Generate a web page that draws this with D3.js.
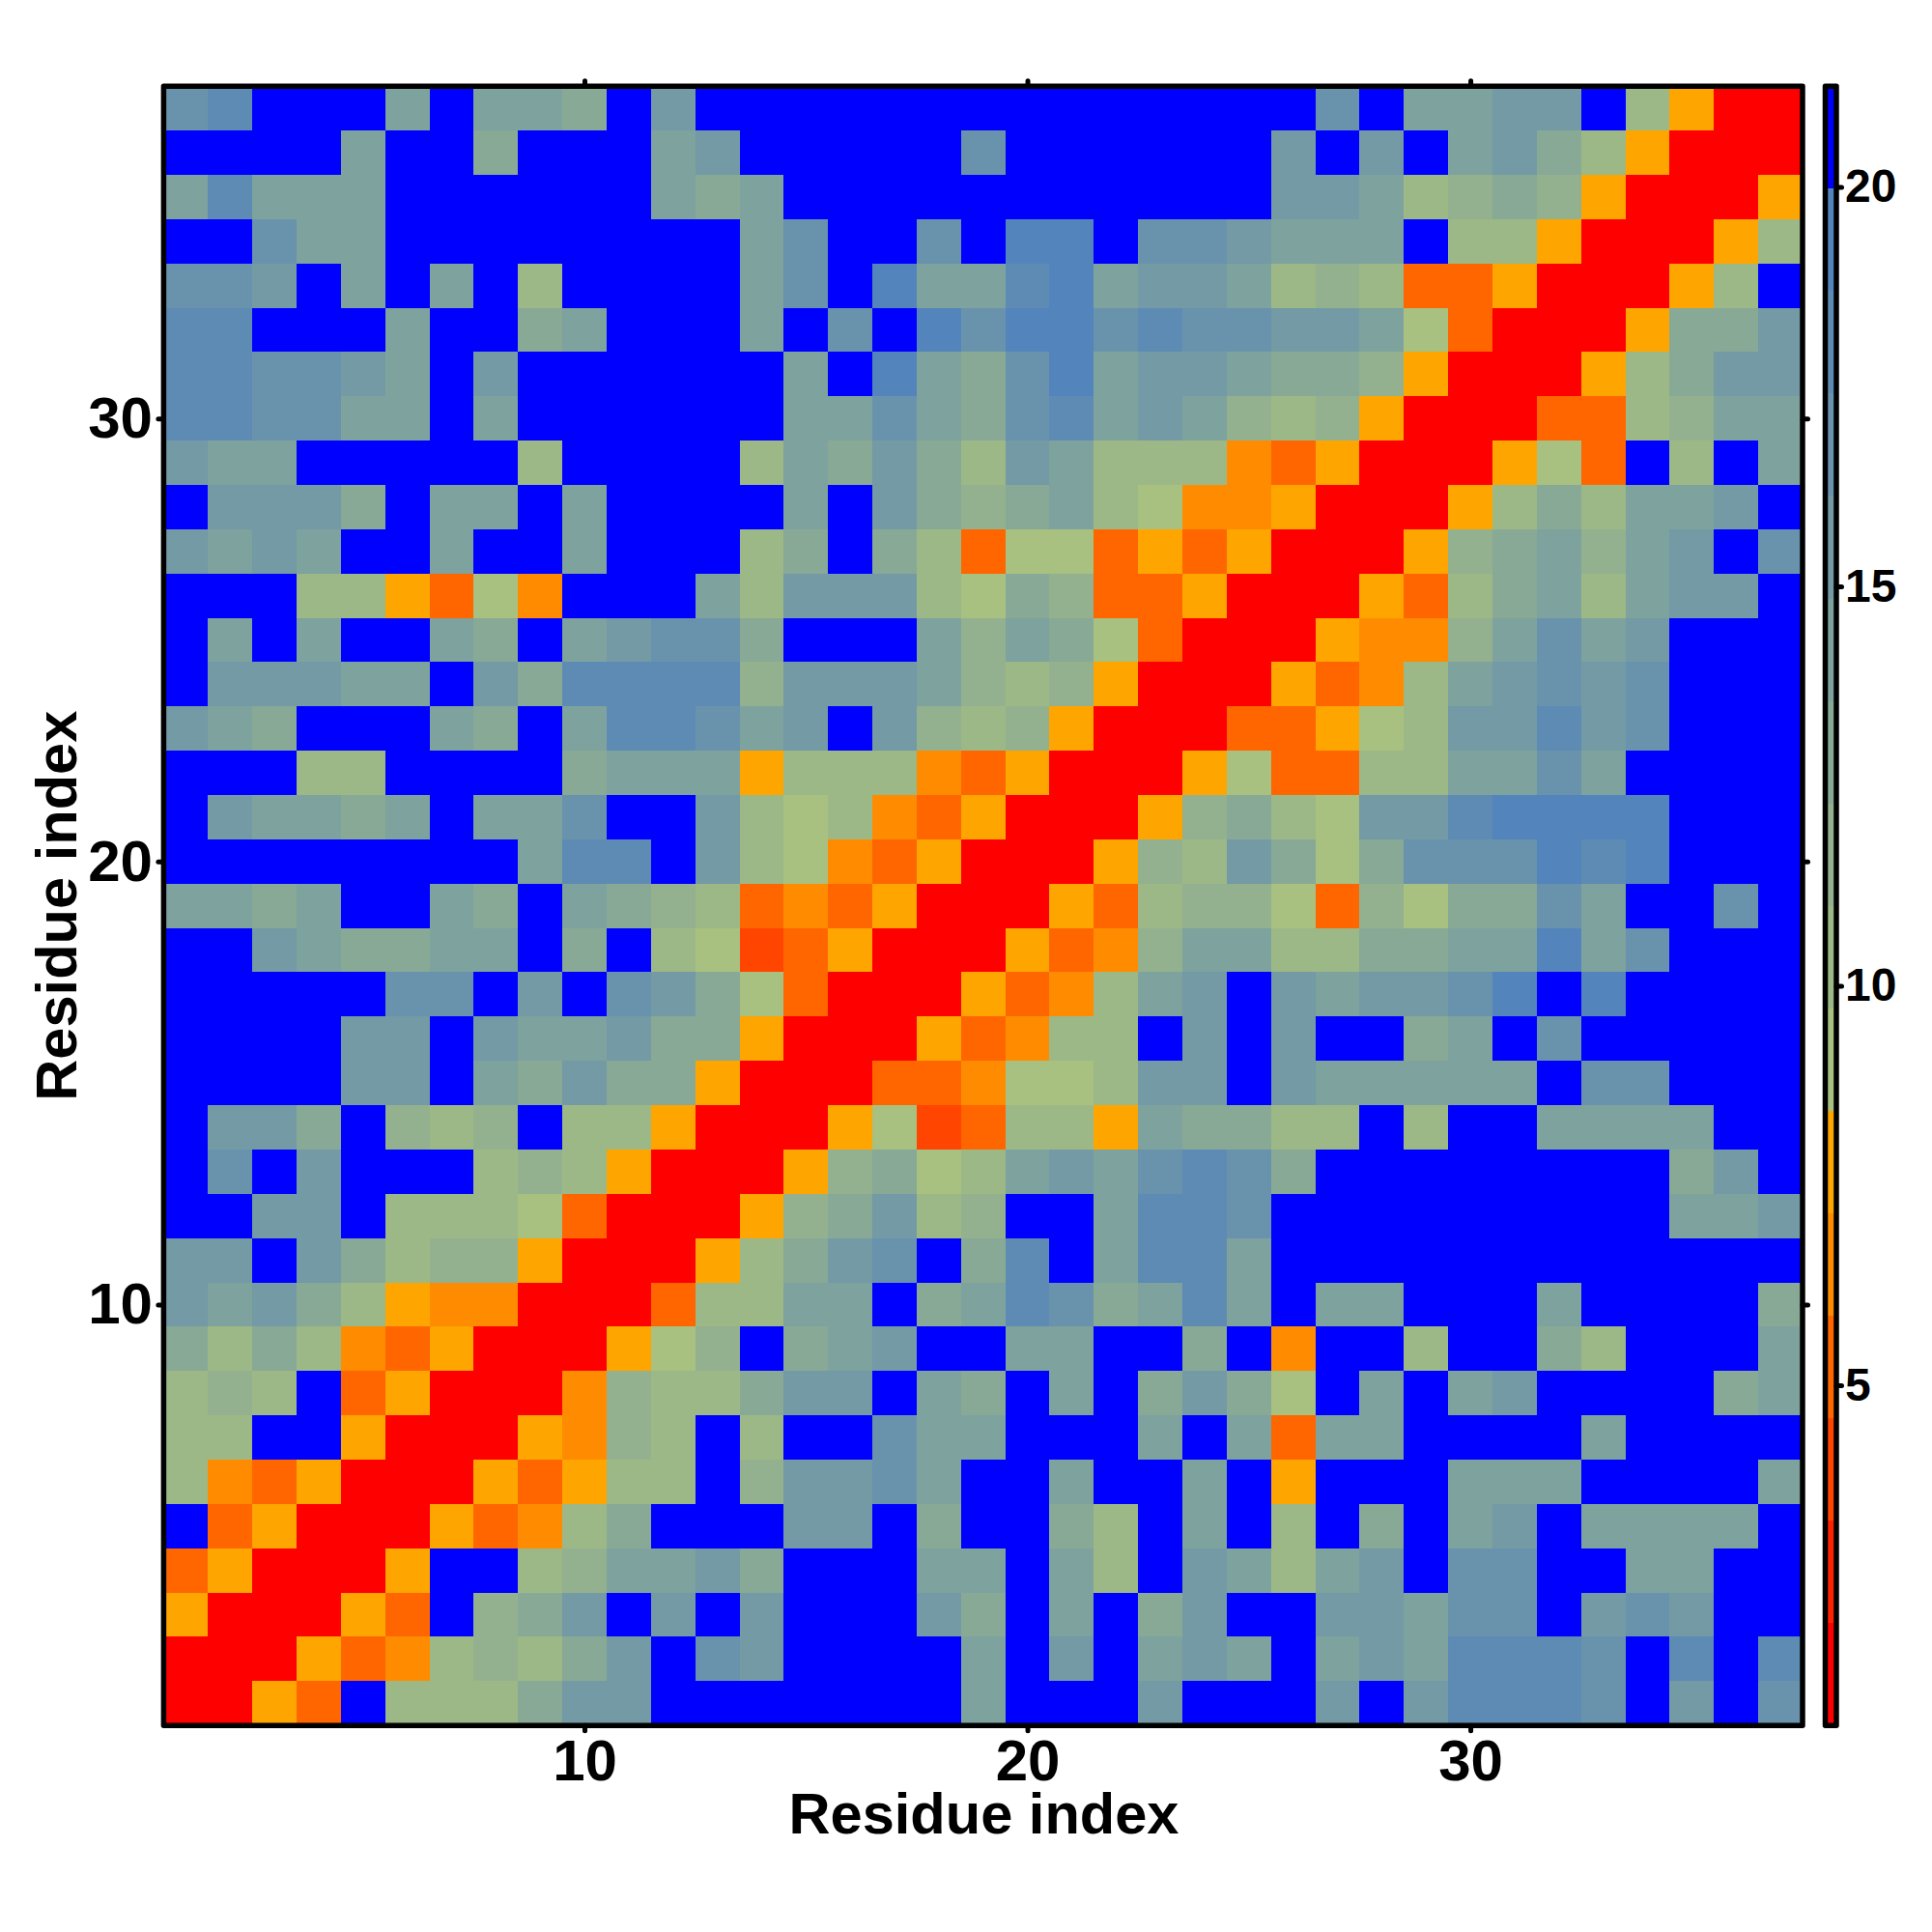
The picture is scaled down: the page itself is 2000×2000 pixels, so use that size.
<!DOCTYPE html>
<html><head><meta charset="utf-8">
<script src="https://cdn.jsdelivr.net/npm/d3@7/dist/d3.min.js"></script>
<style>html,body{margin:0;padding:0;background:#fff}svg{display:block}text{font-family:"Liberation Sans",Arial,sans-serif;font-weight:bold;fill:#000}</style>
</head><body><svg id="c" width="2000" height="2000"></svg>
<script>
const axisTicks = [10, 20, 30];
const colorbarTicks = [5, 10, 15, 20];
const axisTitle = "Residue index";
const palette = ["#FF0000","#FF2200","#FF4500","#FF6600","#FF8C00","#FFA500","#A8C080","#9DB887","#93B18F","#88A996","#7EA29E","#739AA5","#6993AD","#5E8BB4","#5484BC","#0000FF"];
// distances, first row = residue 37 (top), last row = residue 1 (bottom)
const row37 = [17,18,21,21,21,14,21,14,14,13,21,16,21,21,21,21,21,21,21,21,21,21,21,21,21,21,17,21,14,14,16,16,21,10,8,1,1];
const row36 = [21,21,21,21,14,21,21,13,21,21,21,14,16,21,21,21,21,21,17,21,21,21,21,21,21,16,21,16,21,14,16,13,10,8,1,1,1];
const row35 = [14,18,14,14,14,21,21,21,21,21,21,14,13,14,21,21,21,21,21,21,21,21,21,21,21,16,16,14,10,12,13,12,8,1,1,1,8];
const row34 = [21,21,17,14,14,21,21,21,21,21,21,21,21,14,17,21,21,17,21,19,19,21,17,17,16,14,14,14,21,10,10,8,1,1,1,8,10];
const row33 = [17,17,16,21,14,21,14,21,10,21,21,21,21,14,17,21,19,14,14,18,19,14,16,16,14,10,12,10,5,5,8,1,1,1,8,10,21];
const row32 = [18,18,21,21,21,14,21,21,13,14,21,21,21,14,21,17,21,19,17,19,19,17,18,17,17,16,16,14,9,5,1,1,1,8,13,13,16];
const row31 = [18,18,17,17,16,14,21,16,21,21,21,21,21,21,14,21,19,14,13,17,19,14,16,16,14,13,13,12,8,1,1,1,8,10,13,16,16];
const row30 = [18,18,17,17,14,14,21,14,21,21,21,21,21,21,14,14,17,14,13,17,18,14,16,14,12,10,12,8,1,1,1,5,5,10,12,14,14];
const row29 = [16,14,14,21,21,21,21,21,10,21,21,21,21,10,14,13,16,13,10,16,14,10,10,10,6,5,8,1,1,1,8,9,5,21,10,21,14];
const row28 = [21,16,16,16,13,21,14,14,21,14,21,21,21,21,14,21,16,13,12,13,14,10,9,6,6,8,1,1,1,8,10,13,10,14,14,16,21];
const row27 = [16,14,16,14,21,21,14,21,21,14,21,21,21,10,13,21,13,10,5,9,9,5,8,5,8,1,1,1,8,12,13,14,12,14,16,21,17];
const row26 = [21,21,21,10,10,8,5,9,6,21,21,21,14,10,16,16,16,10,9,13,12,5,5,8,1,1,1,8,5,10,13,14,10,14,16,16,21];
const row25 = [21,14,21,14,21,21,14,13,21,14,16,17,17,13,21,21,21,14,12,14,13,9,5,1,1,1,8,6,6,12,14,17,14,16,21,21,21];
const row24 = [21,16,16,16,14,14,21,16,13,18,18,18,18,12,16,16,16,14,12,10,12,8,1,1,1,8,5,6,10,14,16,17,16,17,21,21,21];
const row23 = [16,14,13,21,21,21,14,13,21,14,18,18,17,14,16,21,16,12,10,12,8,1,1,1,5,5,8,9,10,16,16,18,16,17,21,21,21];
const row22 = [21,21,21,10,10,21,21,21,21,13,14,14,14,8,10,10,10,6,5,8,1,1,1,8,9,5,5,10,10,14,14,17,14,21,21,21,21];
const row21 = [21,16,14,14,13,14,21,14,14,17,21,21,16,10,9,10,6,5,8,1,1,1,8,12,13,10,9,16,16,18,19,19,19,19,21,21,21];
const row20 = [21,21,21,21,21,21,21,21,14,18,18,21,16,10,9,6,5,8,1,1,1,8,12,10,16,13,9,13,17,17,17,19,18,19,21,21,21];
const row19 = [14,14,13,14,21,21,14,13,21,14,13,12,10,5,6,5,8,1,1,1,8,5,10,12,12,9,5,12,9,13,13,17,14,21,21,17,21];
const row18 = [21,21,16,14,13,13,14,14,21,13,21,10,9,4,5,8,1,1,1,8,5,6,12,14,14,10,10,13,13,14,14,19,14,17,21,21,21];
const row17 = [21,21,21,21,21,17,17,21,16,21,17,16,13,9,5,1,1,1,8,5,6,10,14,16,21,16,14,16,16,17,19,21,19,21,21,21,21];
const row16 = [21,21,21,21,16,16,21,16,14,14,16,13,13,8,1,1,1,8,5,6,10,10,21,16,21,16,21,21,13,14,21,17,21,21,21,21,21];
const row15 = [21,21,21,21,16,16,21,14,13,16,13,13,8,1,1,1,5,5,6,9,9,10,16,16,21,16,14,14,14,14,14,21,17,17,21,21,21];
const row14 = [21,16,16,13,21,12,10,12,21,10,10,8,1,1,1,8,9,4,5,10,10,8,14,13,13,10,10,21,10,21,21,14,14,14,14,21,21];
const row13 = [21,17,21,16,21,21,21,10,12,10,8,1,1,1,8,12,13,9,10,14,16,14,17,18,17,13,21,21,21,21,21,21,21,21,13,16,21];
const row12 = [21,21,16,16,21,10,10,10,9,5,1,1,1,8,12,13,16,10,12,21,21,14,18,18,17,21,21,21,21,21,21,21,21,21,14,14,16];
const row11 = [16,16,21,16,13,10,12,12,8,1,1,1,8,10,13,16,17,21,13,18,21,14,18,18,14,21,21,21,21,21,21,21,21,21,21,21,21];
const row10 = [16,14,16,13,10,8,6,6,1,1,1,5,10,10,14,14,21,13,14,18,17,13,14,18,14,21,14,14,21,21,21,14,21,21,21,21,13];
const row9  = [13,10,13,10,6,5,8,1,1,1,8,9,12,21,13,14,16,21,21,14,14,21,21,13,21,6,21,21,10,21,21,13,10,21,21,21,14];
const row8  = [10,12,10,21,5,8,1,1,1,6,12,10,10,13,16,16,21,14,13,21,14,21,13,16,13,9,21,14,21,14,16,21,21,21,21,13,14];
const row7  = [10,10,21,21,8,1,1,1,8,6,12,10,21,10,21,21,17,14,14,21,21,21,14,21,14,5,14,14,21,21,21,21,14,21,21,21,21];
const row6  = [10,6,5,8,1,1,1,8,5,8,10,10,21,12,16,16,17,14,21,21,14,21,21,14,21,8,21,21,21,14,14,14,21,21,21,21,14];
const row5  = [21,5,8,1,1,1,8,5,6,10,13,21,21,21,16,16,21,13,21,21,13,10,21,14,21,10,21,13,21,14,16,21,14,14,14,14,21];
const row4  = [5,8,1,1,1,8,21,21,10,12,14,14,16,13,21,21,21,14,14,21,14,10,21,16,14,10,14,16,21,17,17,21,21,14,14,21,21];
const row3  = [8,1,1,1,8,5,21,12,13,16,21,16,21,16,21,21,21,16,13,21,14,21,13,16,21,21,16,16,14,17,17,21,16,17,16,21,21];
const row2  = [1,1,1,8,5,6,10,12,10,13,16,21,17,16,21,21,21,21,14,21,16,21,14,16,14,21,14,16,14,18,18,18,17,21,18,21,18];
const row1  = [1,1,8,5,21,10,10,10,13,16,16,21,21,21,21,21,21,21,14,21,21,21,16,21,21,21,16,21,16,18,18,18,17,21,16,21,17];
const rows = [row37,row36,row35,row34,row33,row32,row31,row30,row29,row28,row27,row26,row25,row24,row23,row22,row21,row20,row19,row18,row17,row16,row15,row14,row13,row12,row11,row10,row9,row8,row7,row6,row5,row4,row3,row2,row1];

const L=169.4,R=1866,T=89.2,B=1786.2;
const N = rows.length;
const x = d3.scaleLinear().domain([0.5,N+0.5]).range([L,R]);
const y = d3.scaleLinear().domain([0.5,N+0.5]).range([B,T]);
const color = d3.scaleQuantize().domain([0.74,21.26]).range(palette);
const svg = d3.select("#c");
const cells = rows.flatMap((r,i)=>r.map((v,j)=>({col:j+1,row:N-i,v})));
svg.append("g").selectAll("rect").data(cells).join("rect")
  .attr("x",d=>x(d.col-0.5)).attr("y",d=>y(d.row+0.5))
  .attr("width",d=>x(d.col+0.5)-x(d.col-0.5)).attr("height",d=>y(d.row-0.5)-y(d.row+0.5))
  .attr("fill",d=>color(d.v)).attr("shape-rendering","crispEdges");

function styleAxis(g,size){
  g.select(".domain").remove();
  g.selectAll("line").attr("stroke","#000").attr("stroke-width",5).attr("stroke-linecap","round");
  g.selectAll("text").attr("font-size",size).attr("fill","#000").style("font-family",'"Liberation Sans",Arial,sans-serif').style("font-weight","bold");
}
const frameWidth = 5.5;
svg.append("g").attr("transform",`translate(0,${B})`).call(d3.axisBottom(x).tickValues(axisTicks).tickSize(5.5).tickPadding(8.5)).call(g=>styleAxis(g,60));
svg.append("g").attr("transform",`translate(0,${T})`).call(d3.axisTop(x).tickValues(axisTicks).tickSize(5.5).tickFormat("")).call(g=>styleAxis(g,60));
svg.append("g").attr("transform",`translate(${L},0)`).call(d3.axisLeft(y).tickValues(axisTicks).tickSize(5.5).tickPadding(6)).call(g=>styleAxis(g,60));
svg.append("g").attr("transform",`translate(${R},0)`).call(d3.axisRight(y).tickValues(axisTicks).tickSize(5.5).tickFormat("")).call(g=>styleAxis(g,60));
svg.append("rect").attr("x",L).attr("y",T).attr("width",R-L).attr("height",B-T).attr("fill","none").attr("stroke","#000").attr("stroke-width",frameWidth).attr("stroke-linejoin","round");

svg.append("text").attr("x",1018.5).attr("y",1898).attr("text-anchor","middle").attr("font-size",59.6).text(axisTitle);
svg.append("text").attr("transform",`translate(79,${(T+B)/2}) rotate(-90)`).attr("text-anchor","middle").attr("font-size",59.6).text(axisTitle);

// colour bar
const cbL=1889.5,cbR=1901;
const cbY = d3.scaleLinear().domain([0.74,21.26]).range([B,T]);
svg.append("g").selectAll("rect").data(palette).join("rect")
  .attr("x",cbL).attr("width",cbR-cbL)
  .attr("y",d=>cbY(color.invertExtent(d)[1])).attr("height",d=>cbY(color.invertExtent(d)[0])-cbY(color.invertExtent(d)[1]))
  .attr("fill",d=>d).attr("shape-rendering","crispEdges");
svg.append("g").attr("transform",`translate(${cbR},0)`).call(d3.axisRight(cbY).tickValues(colorbarTicks).tickSize(5.5).tickPadding(3.5)).call(g=>styleAxis(g,48));
svg.append("rect").attr("x",cbL).attr("y",T).attr("width",cbR-cbL).attr("height",B-T).attr("fill","none").attr("stroke","#000").attr("stroke-width",frameWidth).attr("stroke-linejoin","round");
</script></body></html>
